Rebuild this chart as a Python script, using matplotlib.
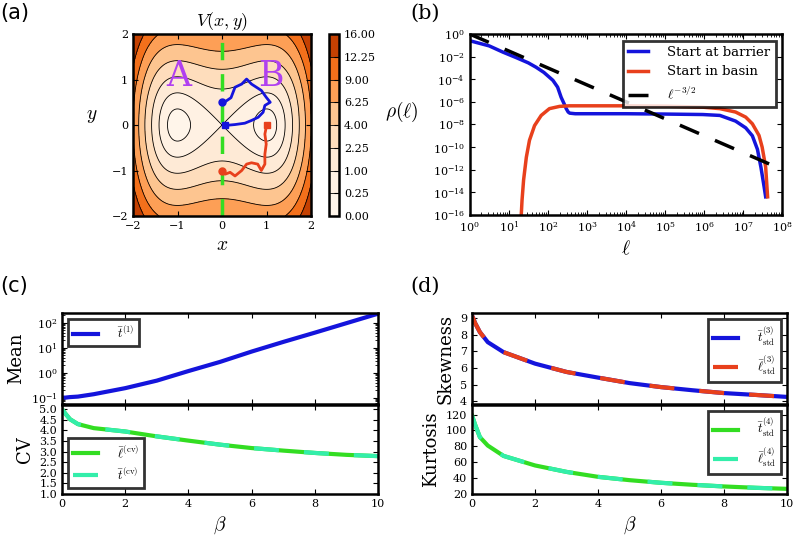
import matplotlib
matplotlib.use('Agg')
import matplotlib.pyplot as plt
from matplotlib.colors import ListedColormap
import numpy as np

plt.rcParams['font.family'] = 'DejaVu Serif'
plt.rcParams['mathtext.fontset'] = 'cm'
plt.rcParams['xtick.direction'] = 'in'
plt.rcParams['ytick.direction'] = 'in'
plt.rcParams['xtick.top'] = True
plt.rcParams['ytick.right'] = True
plt.rcParams['xtick.labelsize'] = 8
plt.rcParams['ytick.labelsize'] = 8
plt.rcParams['axes.linewidth'] = 1.8

# ---- panel (a): potential levels and two trajectories
levels = [0, 0.25, 1, 2.25, 4, 6.25, 9, 12.25, 16]
blue_x = [0.0, 0.08, 0.2, 0.29, 0.44, 0.55, 0.66, 0.88, 0.99, 1.08, 0.96, 0.92, 0.81, 0.66, 0.51, 0.29, 0.07]
blue_y = [0.5, 0.52, 0.6, 0.83, 0.9, 1.01, 0.9, 0.76, 0.61, 0.5, 0.43, 0.28, 0.17, 0.1, 0.04, 0.01, -0.01]
red_x = [0.0, 0.07, 0.18, 0.29, 0.44, 0.55, 0.66, 0.8, 0.88, 0.96, 0.96, 0.99, 0.96, 1.0]
red_y = [-1.0, -1.08, -1.04, -1.12, -1.0, -0.86, -0.83, -0.86, -1.0, -0.86, -0.64, -0.42, -0.2, 0.0]

# ---- panel (b): distributions (log10 values)
lg_ell_bar = [0, 0.5, 0.85, 1.2, 1.5, 1.7, 1.9, 2.13, 2.25, 2.34, 2.42, 2.47, 2.52, 2.56, 2.7, 3, 4, 5, 5.96,
              6.4, 6.8, 7.06, 7.23, 7.36, 7.45, 7.53, 7.57]
lg_rho_bar = [-0.59, -1.05, -1.6, -2.1, -2.55, -2.94, -3.4, -4.1, -4.7, -5.6, -6.2, -6.6, -6.9, -7.0, -7.05,
              -7.05, -7.05, -7.08, -7.12, -7.2, -7.7, -8.3, -9.0, -10.2, -11.8, -13.5, -14.4]
lg_ell_bas = [1.32, 1.34, 1.38, 1.45, 1.53, 1.66, 1.83, 2.04, 2.3, 2.55, 3, 4, 5, 5.96, 6.4, 6.8, 7.06,
              7.23, 7.4, 7.48, 7.57, 7.62]
lg_rho_bas = [-16, -14.7, -12.9, -10.9, -9.4, -8.1, -7.2, -6.6, -6.4, -6.35, -6.35, -6.35, -6.38, -6.47,
              -6.6, -6.9, -7.35, -7.94, -8.97, -10.0, -11.76, -14.4]
ell_ref = np.array([1.0, 1e8])

# ---- panels (c), (d): moments vs beta
beta = [0, 0.1, 0.25, 0.5, 1, 2, 3, 4, 5, 6, 7, 8, 9, 10]
mean_t = [0.1, 0.1, 0.105, 0.11, 0.137, 0.24, 0.48, 1.16, 2.7, 7.0, 17, 40, 96, 230]
cv = [5.0, 4.8, 4.53, 4.3, 4.11, 3.95, 3.72, 3.52, 3.33, 3.17, 3.05, 2.94, 2.85, 2.79]
skew = [9.16, 8.7, 8.16, 7.56, 6.96, 6.27, 5.77, 5.43, 5.1, 4.86, 4.67, 4.5, 4.39, 4.27]
kurt = [118.7, 107, 91.6, 81, 68, 56, 47.9, 41.7, 37.5, 34.2, 31.7, 29.6, 27.9, 26.6]

blue = '#1414dc'
red = '#e8401c'
green = '#33dd22'
cyan = '#33eeaa'

fig = plt.figure(figsize=(7.96, 5.40), dpi=100)


def box_legend(ax, **kw):
    leg = ax.legend(fancybox=False, **kw)
    leg.get_frame().set_edgecolor('black')
    leg.get_frame().set_linewidth(2)
    return leg


# (a) potential
oranges = ListedColormap(plt.cm.Oranges(np.linspace(0, 0.9, 256)))
ax = fig.add_axes([0.167, 0.600, 0.224, 0.337])
xg = np.linspace(-2, 2, 301)
X, Y = np.meshgrid(xg, xg)
V = np.minimum((X**2 - 1)**2 + 2 * Y**2, 15.99)
cf = ax.contourf(X, Y, V, levels=levels, cmap=oranges, vmin=0, vmax=16)
cl = ax.contour(X, Y, V, levels=levels[1:-1], colors='k', linewidths=0.6)
ax.plot([0, 0], [-2, 2], color=green, lw=2.5, dashes=(5, 4))
ax.plot(blue_x, blue_y, color=blue, lw=2)
ax.plot(blue_x[0], blue_y[0], 'o', color=blue, ms=5)
ax.plot(blue_x[-1], blue_y[-1], 's', color=blue, ms=5)
ax.plot(red_x, red_y, color=red, lw=2)
ax.plot(red_x[0], red_y[0], 'o', color=red, ms=5)
ax.plot(red_x[-1], red_y[-1], 's', color=red, ms=5)
ax.text(-0.97, 1.08, 'A', color='#b040f0', fontsize=25, ha='center', va='center')
ax.text(1.1, 1.08, 'B', color='#b040f0', fontsize=25, ha='center', va='center')
ax.set_xlim(-2, 2)
ax.set_ylim(-2, 2)
ax.set_xticks([-2, -1, 0, 1, 2])
ax.set_yticks([-2, -1, 0, 1, 2])
ax.set_xlabel(r'$x$', fontsize=14)
ax.set_ylabel(r'$y$', fontsize=14, rotation=0, labelpad=14)
ax.set_title(r'$V(x,y)$', fontsize=13)
cax = fig.add_axes([0.413, 0.600, 0.013, 0.337])
cb = fig.colorbar(cf, cax=cax, ticks=levels, format='%.2f')
cb.add_lines(cl)
cb.outline.set_linewidth(1.8)
cax.tick_params(direction='in', labelsize=8)

# (b) distributions
ax = fig.add_axes([0.590, 0.602, 0.393, 0.335])
ax.loglog(10**np.array(lg_ell_bar), 10**np.array(lg_rho_bar), color=blue, lw=2.5, label='Start at barrier')
ax.loglog(10**np.array(lg_ell_bas), 10**np.array(lg_rho_bas), color=red, lw=2.5, label='Start in basin')
ax.loglog(ell_ref, ell_ref**-1.5, 'k--', lw=2.5, dashes=(6, 5), label=r'$\ell^{-3/2}$')
ax.set_xlim(1, 1e8)
ax.set_ylim(1e-16, 1)
ax.set_xticks(10.0**np.arange(0, 9))
ax.set_yticks(10.0**np.arange(-16, 1, 2))
ax.yaxis.set_minor_locator(matplotlib.ticker.NullLocator())
ax.set_xlabel(r'$\ell$', fontsize=14)
ax.set_ylabel(r'$\rho(\ell)$', fontsize=14, rotation=0, labelpad=22)
box_legend(ax, loc='upper right', fontsize=9.5, handlelength=1.5, handletextpad=1.5)

# (c) mean and CV
axm = fig.add_axes([0.078, 0.252, 0.397, 0.168])
axm.semilogy(beta, mean_t, color=blue, lw=3, label=r'$\bar{t}^{(1)}$')
axm.set_xlim(0, 10)
axm.set_ylim(0.056, 240)
axm.set_xticks([0, 2, 4, 6, 8, 10])
axm.set_yticks([0.1, 1, 10, 100])
axm.set_xticklabels([])
axm.set_ylabel('Mean', fontsize=13)
box_legend(axm, loc='upper left', fontsize=9, handletextpad=1.5)

axc = fig.add_axes([0.078, 0.085, 0.397, 0.165])
axc.plot(beta, cv, color=green, lw=3, label=r'$\bar{\ell}^{(\rm cv)}$')
axc.plot(beta, cv, color=cyan, lw=3, dashes=(6, 6), label=r'$\bar{t}^{(\rm cv)}$')
axc.set_xlim(0, 10)
axc.set_ylim(1, 5.2)
axc.set_xticks([0, 2, 4, 6, 8, 10])
axc.set_yticks(np.arange(1, 5.01, 0.5))
axc.yaxis.set_major_formatter(matplotlib.ticker.FormatStrFormatter('%.1f'))
axc.set_ylabel('CV', fontsize=13)
axc.set_xlabel(r'$\beta$', fontsize=14)
box_legend(axc, loc='lower left', fontsize=9, handletextpad=1.5)

# (d) skewness and kurtosis
axs = fig.add_axes([0.593, 0.252, 0.396, 0.168])
axs.plot(beta, skew, color=blue, lw=3, label=r'$\bar{t}^{(3)}_{\rm std}$')
axs.plot(beta, skew, color=red, lw=3, dashes=(6, 6), label=r'$\bar{\ell}^{(3)}_{\rm std}$')
axs.set_xlim(0, 10)
axs.set_ylim(3.85, 9.3)
axs.set_xticks([0, 2, 4, 6, 8, 10])
axs.set_yticks([4, 5, 6, 7, 8, 9])
axs.set_xticklabels([])
axs.set_ylabel('Skewness', fontsize=13)
box_legend(axs, loc='upper right', fontsize=9, handletextpad=1.5)

axk = fig.add_axes([0.593, 0.085, 0.396, 0.165])
axk.plot(beta, kurt, color=green, lw=3, label=r'$\bar{t}^{(4)}_{\rm std}$')
axk.plot(beta, kurt, color=cyan, lw=3, dashes=(6, 6), label=r'$\bar{\ell}^{(4)}_{\rm std}$')
axk.set_xlim(0, 10)
axk.set_ylim(20, 132)
axk.set_xticks([0, 2, 4, 6, 8, 10])
axk.set_yticks([20, 40, 60, 80, 100, 120])
axk.set_ylabel('Kurtosis', fontsize=13)
axk.set_xlabel(r'$\beta$', fontsize=14)
box_legend(axk, loc='upper right', fontsize=9, handletextpad=1.5)

fig.text(0.0, 0.975, '(a)', fontsize=15, family='DejaVu Sans', va='center')
fig.text(0.515, 0.975, '(b)', fontsize=15, va='center')
fig.text(0.0, 0.47, '(c)', fontsize=15, family='DejaVu Sans', va='center')
fig.text(0.515, 0.47, '(d)', fontsize=15, va='center')

fig.savefig('out.png', dpi=100)
